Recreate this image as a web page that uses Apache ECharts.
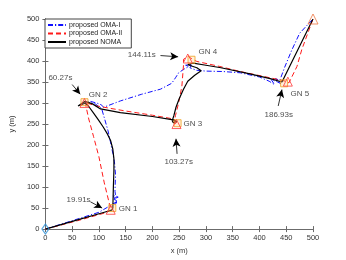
<!DOCTYPE html>
<html><head><meta charset="utf-8">
<script src="https://cdn.jsdelivr.net/npm/echarts@6/dist/echarts.min.js"></script>
<style>html,body{margin:0;padding:0;background:#fff}#c{width:346px;height:260px}</style>
</head><body><div id="c"></div>
<script>
const seriesNames = ['proposed OMA-I', 'proposed OMA-II', 'proposed NOMA'];
const omaI = [[0,0],[50,20],[100,40],[116,52],[124,58],[132,64],[128,72],[136,76],[126,82],[131,68],[129,58],[133,62],[130,90],[131,130],[129,160],[126,180],[122,205],[117,234],[110,265],[105,287],[93,298],[80,302],[74,300],[84,304],[96,300],[104,296],[109,290],[140,305],[180,321],[215,333],[236,347],[243,360],[249,372],[258,380],[268,387],[262,390],[274,392],[270,384],[282,378],[300,376],[332,375],[364,372],[400,362],[418,352],[428,344],[422,356],[434,350],[440,346],[430,358],[438,354],[440,358],[447,385],[460,425],[475,466],[500,500]];
const omaII = [[0,0],[60,20],[110,38],[118,42],[125,47],[122,52],[120,58],[110,110],[100,172],[90,220],[81,262],[75,297],[73,302],[80,299],[96,293],[150,281],[200,271],[240,262],[247,250],[240,252],[243,270],[249,301],[255,340],[258,390],[258,404],[267,411],[275,404],[283,399],[326,387],[364,375],[420,360],[448,352],[455,348],[470,387],[479,427],[500,500]];
const noma = [[0,0],[60,22],[110,40],[124,45],[126,50],[127,100],[128,140],[128,167],[126,190],[122,210],[116,226],[108,243],[99,260],[90,276],[82,290],[75,300],[61,293],[74,304],[88,298],[103,286],[140,277],[200,268],[239,260],[245,256],[239,253],[237,258],[240,270],[244,290],[250,310],[258,333],[266,352],[279,366],[291,377],[283,384],[266,391],[276,395],[300,390],[328,384],[380,370],[420,358],[442,350],[445,346],[500,500]];
const gnNames = ['GN 1', 'GN 2', 'GN 3', 'GN 4', 'GN 5'];
const gnX = [125, 73, 247, 273, 446];
const gnY = [50, 302, 252, 403, 347];
const triX = [122, 73, 245, 266, 453];
const triY = [46, 300, 250, 406, 351];
const startPt = [0, 0];
const endPt = [500, 500];
const gnLabelAt = [[137, 48], [81, 319], [258, 250], [286, 421], [458, 321]];
const timeLabels = ['19.91s', '60.27s', '103.27s', '144.11s', '186.93s'];
const timeLabelAt = [[62, 69], [28, 360], [249, 160], [180, 415], [436, 272]];
const arrowFrom = [[84, 65], [50, 344], [246, 179], [215, 413], [435, 293]];
const arrowTo = [[106, 50], [65, 321], [244, 215], [248, 410], [442, 332]];
const ticks = [0, 50, 100, 150, 200, 250, 300, 350, 400, 450, 500];

const FONT = 'Liberation Sans, Arial, sans-serif';
const axisLine = { show: true, lineStyle: { color: '#6b6b6b', width: 1 } };
const axisTick = { show: true, inside: true, length: 3, lineStyle: { color: '#6b6b6b' } };
const axisLabel = { fontSize: 7.5, color: '#333', fontFamily: FONT };

const chart = echarts.init(document.getElementById('c'), null, { renderer: 'canvas' });
chart.setOption({
  animation: false,
  backgroundColor: '#fff',
  grid: { left: 45, right: 33, top: 19, bottom: 29, containLabel: false },
  xAxis: [
    { type: 'value', min: ticks[0], max: ticks[ticks.length - 1], interval: 50, position: 'bottom',
      axisLine, axisTick, splitLine: { show: false },
      axisLabel: Object.assign({ margin: 5 }, axisLabel),
      name: 'x (m)', nameLocation: 'middle', nameGap: 17,
      nameTextStyle: { fontSize: 7.5, color: '#333', fontFamily: FONT } },
    { type: 'value', min: 0, max: 500, interval: 50, position: 'top',
      axisLine, axisTick, axisLabel: { show: false }, splitLine: { show: false } }
  ],
  yAxis: [
    { type: 'value', min: ticks[0], max: ticks[ticks.length - 1], interval: 50, position: 'left',
      axisLine, axisTick, splitLine: { show: false },
      axisLabel: Object.assign({ margin: 6 }, axisLabel),
      name: 'y (m)', nameLocation: 'middle', nameGap: 24, nameRotate: 90,
      nameTextStyle: { fontSize: 7.5, color: '#333', fontFamily: FONT } },
    { type: 'value', min: 0, max: 500, interval: 50, position: 'right',
      axisLine, axisTick, axisLabel: { show: false }, splitLine: { show: false } }
  ],
  legend: {
    data: seriesNames, orient: 'vertical', left: 45, top: 19,
    itemWidth: 18, itemHeight: 8, itemGap: 1.5,
    padding: [2.5, 9, 2.5, 2],
    backgroundColor: '#fff', borderColor: '#444', borderWidth: 1,
    itemStyle: { opacity: 0 },
    textStyle: { fontSize: 7, color: '#222', fontFamily: FONT, padding: [0, 0, 0, -2] },
    selectedMode: false
  },
  series: [
    { name: seriesNames[0], type: 'line', data: omaI, showSymbol: false, symbol: 'none',
      lineStyle: { color: '#1010ff', width: 1, type: [5, 2, 1.2, 2] }, itemStyle: { color: '#1010ff' }, z: 2 },
    { name: seriesNames[1], type: 'line', data: omaII, showSymbol: false, symbol: 'none',
      lineStyle: { color: '#ff1a1a', width: 1, type: [5, 3] }, itemStyle: { color: '#ff1a1a' }, z: 3 },
    { name: seriesNames[2], type: 'line', data: noma, showSymbol: false, symbol: 'none',
      lineStyle: { color: '#000', width: 1.2 }, itemStyle: { color: '#000' }, z: 4 },
    { type: 'scatter', data: gnX.map((x, i) => [x, gnY[i]]), symbol: 'rect', symbolSize: 7,
      itemStyle: { color: 'rgba(255,200,120,0.35)', borderColor: '#eda020', borderWidth: 1 }, z: 5, clip: false },
    { type: 'scatter', data: triX.map((x, i) => [x, triY[i]]), symbol: 'triangle', symbolSize: 9,
      itemStyle: { color: 'rgba(0,0,0,0)', borderColor: '#ff3a3a', borderWidth: 1 }, z: 5, clip: false },
    { type: 'scatter', data: [endPt], symbol: 'triangle', symbolSize: 10,
      itemStyle: { color: 'rgba(0,0,0,0)', borderColor: '#ee7744', borderWidth: 1 }, z: 6, clip: false },
    { type: 'scatter', data: [startPt], symbol: 'diamond', symbolSize: [7, 10],
      itemStyle: { color: 'rgba(0,0,0,0)', borderColor: '#2a8fd6', borderWidth: 1.2 }, z: 6, clip: false },
    { type: 'scatter', symbolSize: 0, z: 7, clip: false,
      data: gnLabelAt.map((p, i) => ({ value: p, name: gnNames[i] })),
      label: { show: true, position: 'right', distance: 0, formatter: '{b}', fontSize: 8, color: '#222', fontFamily: FONT } },
    { type: 'scatter', symbolSize: 0, z: 7, clip: false,
      data: timeLabelAt.map((p, i) => ({ value: p, name: timeLabels[i] })),
      label: { show: true, position: 'inside', formatter: '{b}', fontSize: 8, color: '#222', fontFamily: FONT } },
    { type: 'line', data: [], z: 7,
      markLine: { silent: true, symbol: ['none', 'arrow'], symbolSize: [6, 8], animation: false,
        label: { show: false },
        lineStyle: { color: '#000', width: 0.8, type: 'solid' },
        data: arrowFrom.map((p, i) => [{ coord: p }, { coord: arrowTo[i] }]) } }
  ]
});
</script></body></html>
